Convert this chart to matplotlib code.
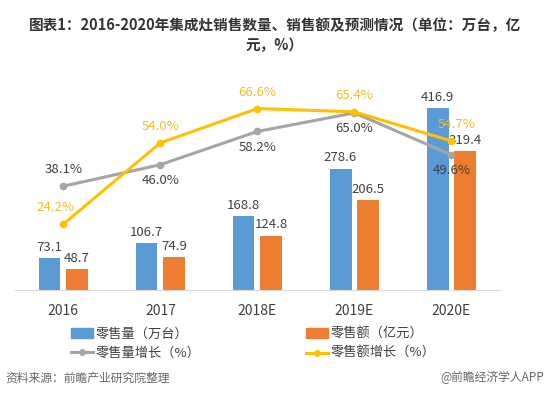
import numpy as np
import matplotlib.pyplot as plt
from matplotlib.lines import Line2D
from matplotlib.patches import Patch

plt.rcParams['font.family'] = ['Noto Sans CJK SC', 'DejaVu Sans']

# dados
anos = ['2016', '2017', '2018E', '2019E', '2020E']
qtd = [73.1, 106.7, 168.8, 278.6, 416.9]         # 零售量（万台）
valor = [48.7, 74.9, 124.8, 206.5, 319.4]        # 零售额（亿元）
cresc_qtd = [38.1, 46.0, 58.2, 65.0, 49.6]       # 零售量增长（%）
cresc_valor = [24.2, 54.0, 66.6, 65.4, 54.7]     # 零售额增长（%）

azul = '#5B9BD5'
laranja = '#ED7D31'
cinza = '#A5A5A5'
amarelo = '#FFC000'
texto = '#404040'

fig = plt.figure(figsize=(5.5, 3.97), dpi=100)
ax = fig.add_axes([0.027, 0.2695, 0.882, 0.549])
x = np.arange(len(anos))
w = 0.225

ax.bar(x - w/2 - 0.03, qtd, w, color=azul)
ax.bar(x + w/2 + 0.03, valor, w, color=laranja)
for i in range(len(anos)):
    ax.annotate(f'{qtd[i]:.1f}', (x[i] - w/2 - 0.03, qtd[i]), xytext=(0, 3),
                textcoords='offset points', ha='center', va='bottom', fontsize=9.5, color=texto)
    ax.annotate(f'{valor[i]:.1f}', (x[i] + w/2 + 0.03, valor[i]), xytext=(0, 3),
                textcoords='offset points', ha='center', va='bottom', fontsize=9.5, color=texto)

ax.set_xlim(-0.5, 4.5)
ax.set_ylim(0, 500)
ax.set_xticks(x)
ax.set_xticklabels(anos, fontsize=10, color=texto)
ax.tick_params(length=0, pad=10)
ax.set_yticks([])
for s in ['top', 'right', 'left']:
    ax.spines[s].set_visible(False)
ax.spines['bottom'].set_color('#D9D9D9')

ax2 = ax.twinx()
ax2.plot(x, cresc_qtd, color=cinza, lw=2.2, marker='o', ms=4.5)
ax2.plot(x, cresc_valor, color=amarelo, lw=2.2, marker='o', ms=4.5)
ax2.set_ylim(0, 80)
ax2.set_yticks([])
for s in ['top', 'right', 'left', 'bottom']:
    ax2.spines[s].set_visible(False)

# rótulos das linhas (deslocamentos em pontos)
off_qtd = [(0, 7), (0, -16), (0, -16), (0, -16), (0, -16)]
off_valor = [(-6, 7), (0, 7), (0, 7), (0, 7), (4, 7)]
for i in range(len(anos)):
    ax2.annotate(f'{cresc_qtd[i]:.1f}%', (x[i], cresc_qtd[i]), xytext=off_qtd[i],
                 textcoords='offset points', ha='center', va='bottom', fontsize=9.5, color=texto)
    ax2.annotate(f'{cresc_valor[i]:.1f}%', (x[i], cresc_valor[i]), xytext=off_valor[i],
                 textcoords='offset points', ha='center', va='bottom', fontsize=9.5, color='#F0BE28')

handles = [Patch(color=azul),
           Line2D([], [], color=cinza, lw=2.2, marker='o', ms=4),
           Patch(color=laranja),
           Line2D([], [], color=amarelo, lw=2.2, marker='o', ms=4)]
labels = ['零售量（万台）', '零售量增长（%）', '零售额（亿元）', '零售额增长（%）']
fig.legend(handles, labels, ncol=2, loc='upper center', bbox_to_anchor=(0.46, 0.205),
           frameon=False, fontsize=9.5, handlelength=1.7, handletextpad=0.15,
           columnspacing=8.0, labelspacing=0.5, labelcolor=texto)

fig.text(0.5, 0.958, '图表1：2016-2020年集成灶销售数量、销售额及预测情况（单位：万台，亿\n元，%）',
         ha='center', va='top', fontsize=10.5, fontweight='bold', color='#333333', linespacing=1.35)
fig.text(0.01, 0.048, '资料来源：前瞻产业研究院整理', ha='left', va='center', fontsize=8.5,
         color='#666666', style='italic')
fig.text(0.99, 0.048, '@前瞻经济学人APP', ha='right', va='center', fontsize=8.5, color='#666666')

plt.savefig('out.png', dpi=100)
